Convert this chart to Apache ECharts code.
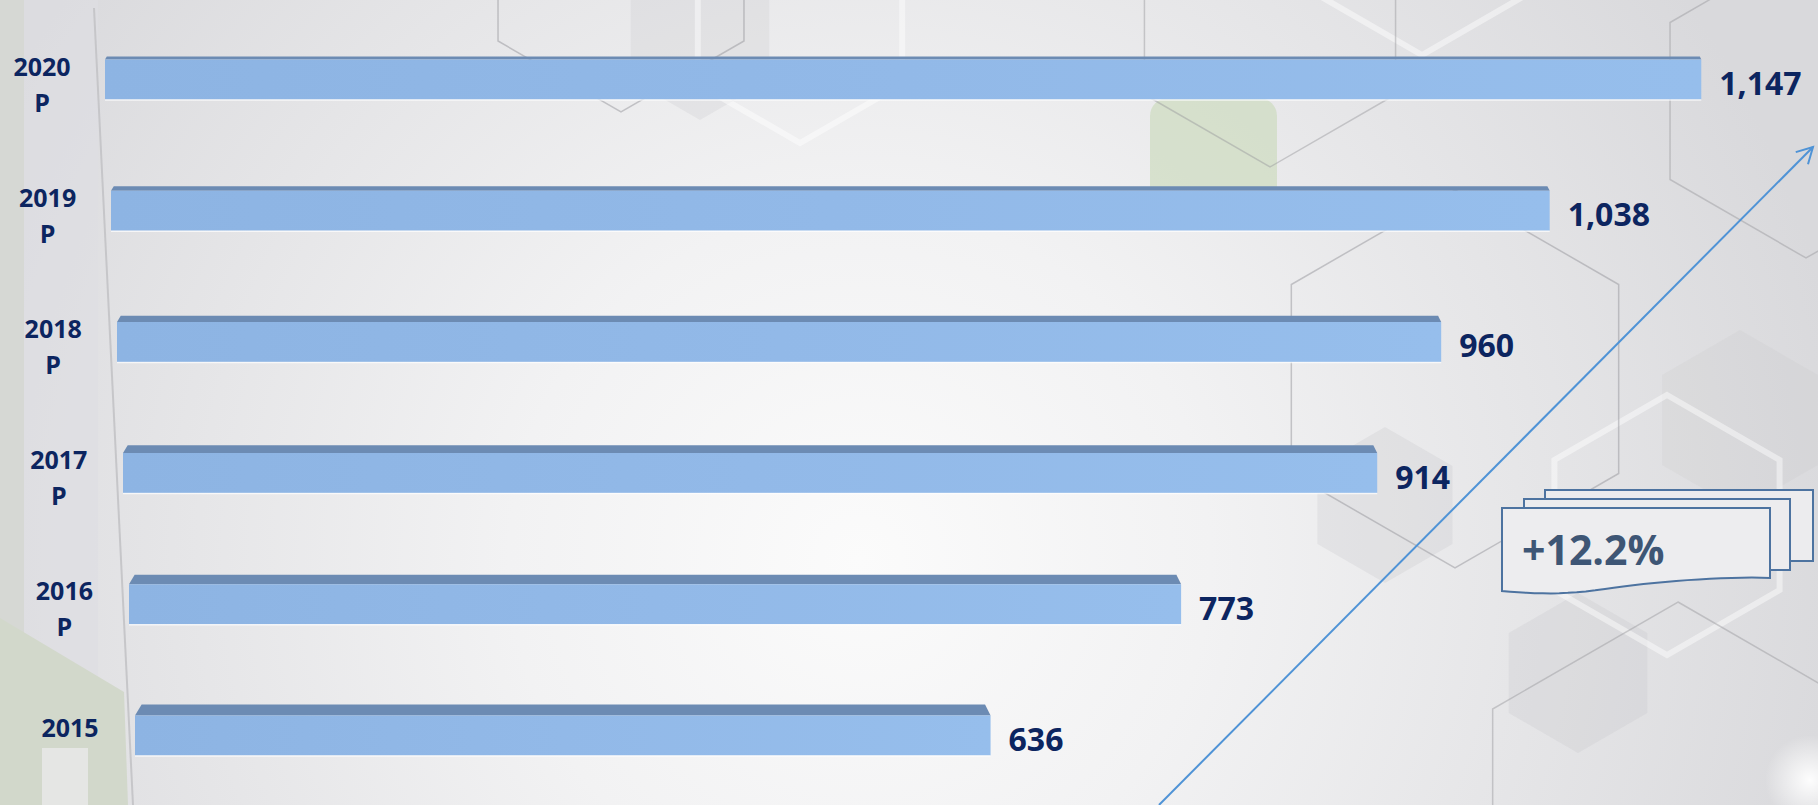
<!DOCTYPE html>
<html>
<head>
<meta charset="utf-8">
<style>
    html, body { margin: 0; padding: 0; background: #e9e9eb; }
    #main { width: 1818px; height: 805px; }
</style>
<script src="https://cdn.jsdelivr.net/npm/echarts@6/dist/echarts.min.js"></script>
</head>
<body>
<div id="main"></div>
<script>
(function () {

    // data, bottom bar first
    var YEARS = ['2015', '2016\nP', '2017\nP', '2018\nP', '2019\nP', '2020\nP'];
    var VALUES = [636, 773, 914, 960, 1038, 1147];
    var X_MAX = 1200;
    var GROWTH_TEXT = '+12.2%';

    var NAVY = '#0c2560';
    var FONT = '"Open Sans", Lato, sans-serif';

    var CHART = echarts.init(document.getElementById('main'), null, { renderer: 'svg' });

    //
    function hex(cx, cy, r) {
        var pts = [];
        for (var i = 0; i < 6; i++) {
            var a = (Math.PI / 180) * (-90 + i * 60);
            pts.push([cx + r * Math.cos(a), cy + r * Math.sin(a)]);
        }
        return pts;
    }

    function hexLine(cx, cy, r, color, width) {
        return {
            type: 'polygon', z: 0, silent: true,
            shape: { points: hex(cx, cy, r) },
            style: { fill: 'none', stroke: color, lineWidth: width }
        };
    }

    function hexFill(cx, cy, r, color) {
        return {
            type: 'polygon', z: 0, silent: true,
            shape: { points: hex(cx, cy, r) },
            style: { fill: color }
        };
    }

    //
    function arrowHead(x1, y1, x2, y2, len, ang) {
        var a = Math.atan2(y2 - y1, x2 - x1);
        return [
            [x2 - len * Math.cos(a - ang), y2 - len * Math.sin(a - ang)],
            [x2, y2],
            [x2 - len * Math.cos(a + ang), y2 - len * Math.sin(a + ang)]
        ];
    }

    // cubic bezier sampled into points, for the wavy bottom of the box
    function bezier(p0, p1, p2, p3, n) {
        var pts = [];
        for (var i = 0; i <= n; i++) {
            var t = i / n, u = 1 - t;
            pts.push([
                u * u * u * p0[0] + 3 * u * u * t * p1[0] + 3 * u * t * t * p2[0] + t * t * t * p3[0],
                u * u * u * p0[1] + 3 * u * u * t * p1[1] + 3 * u * t * t * p2[1] + t * t * t * p3[1]
            ]);
        }
        return pts;
    }

    var boxFront = [[1502, 508], [1770, 508]]
        .concat(bezier([1770, 578], [1725, 576], [1650, 582], [1605, 589], 16))
        .concat(bezier([1605, 589], [1565, 595], [1535, 594], [1502, 591], 12).slice(1));

    // background pieces
    var background = [
        {
            type: 'rect', z: 0, silent: true,
            shape: { x: 0, y: 0, width: 1818, height: 805 },
            style: {
                fill: new echarts.graphic.RadialGradient(860, 560, 1000, [
                    { offset: 0, color: '#fbfbfb' },
                    { offset: 0.35, color: '#f2f2f3' },
                    { offset: 1, color: '#d9d9dc' }
                ], true)
            }
        },
        { type: 'rect', z: 0, silent: true, shape: { x: 0, y: 0, width: 24, height: 805 }, style: { fill: '#d6d8d4' } },
        { type: 'rect', z: 0, silent: true, shape: { x: 24, y: 0, width: 74, height: 805 }, style: { fill: 'rgba(222,222,226,0.6)' } },
        {
            type: 'polygon', z: 0, silent: true,
            shape: { points: [[0, 618], [124, 692], [128, 805], [0, 805]] },
            style: { fill: '#d2d8cb' }
        },
        { type: 'rect', z: 0, silent: true, shape: { x: 42, y: 748, width: 46, height: 57 }, style: { fill: '#e5e6e4' } },

        hexFill(700, 40, 80, 'rgba(190,190,195,0.2)'),
        hexFill(1385, 505, 78, 'rgba(185,185,190,0.2)'),
        hexFill(1578, 673, 80, 'rgba(185,185,190,0.18)'),
        hexFill(1740, 420, 90, 'rgba(190,190,195,0.16)'),
        {
            type: 'rect', z: 0, silent: true,
            shape: { x: 1150, y: 98, width: 127, height: 92, r: [18, 18, 0, 0] },
            style: { fill: 'rgba(200,216,184,0.6)' }
        },

        hexLine(800, 25, 118, 'rgba(255,255,255,0.45)', 6),
        hexLine(1422, -75, 130, 'rgba(255,255,255,0.45)', 6),
        hexLine(1667, 525, 130, 'rgba(255,255,255,0.45)', 6),

        hexLine(621, -30, 142, 'rgba(150,150,155,0.5)', 1.5),
        hexLine(1270, 22, 145, 'rgba(150,150,155,0.45)', 1.5),
        hexLine(1455, 379, 189, 'rgba(150,150,155,0.5)', 1.5),
        hexLine(1678, 816, 214, 'rgba(150,150,155,0.45)', 1.5),
        hexLine(1806, 101, 157, 'rgba(150,150,155,0.45)', 1.5),

        {
            type: 'circle', z: 0, silent: true,
            shape: { cx: 1810, cy: 780, r: 45 },
            style: {
                fill: new echarts.graphic.RadialGradient(0.5, 0.5, 0.5, [
                    { offset: 0, color: 'rgba(255,255,255,0.95)' },
                    { offset: 1, color: 'rgba(255,255,255,0)' }
                ])
            }
        },

        // slanted axis line
        {
            type: 'line', z: 1, silent: true,
            shape: { x1: 94, y1: 8, x2: 133, y2: 805 },
            style: { stroke: '#c6c6c9', lineWidth: 2 }
        }
    ];

    // arrow and growth box
    var ARROW = [1159, 805, 1813, 147];
    var overlay = [
        {
            type: 'line', z: 10, silent: true,
            shape: { x1: ARROW[0], y1: ARROW[1], x2: ARROW[2], y2: ARROW[3] },
            style: { stroke: '#4f93d6', lineWidth: 2 }
        },
        {
            type: 'polyline', z: 10, silent: true,
            shape: { points: arrowHead(ARROW[0], ARROW[1], ARROW[2], ARROW[3], 18, 0.5) },
            style: { stroke: '#4f93d6', lineWidth: 2, fill: 'none' }
        },
        {
            type: 'rect', z: 10, silent: true,
            shape: { x: 1545, y: 490, width: 268, height: 71 },
            style: { fill: '#ececee', stroke: '#4d73a0', lineWidth: 2 }
        },
        {
            type: 'rect', z: 10, silent: true,
            shape: { x: 1524, y: 499, width: 266, height: 71 },
            style: { fill: '#ececee', stroke: '#4d73a0', lineWidth: 2 }
        },
        {
            type: 'polygon', z: 10, silent: true,
            shape: { points: boxFront },
            style: { fill: '#ededef', stroke: '#4d73a0', lineWidth: 2 }
        },
        {
            type: 'text', z: 11, silent: true,
            x: 1522, y: 549,
            style: {
                text: GROWTH_TEXT, fill: '#3e5675',
                font: 'bold 41px ' + FONT, align: 'left', verticalAlign: 'middle'
            }
        }
    ];

    //
    function renderBar(params, api) {
        var idx = params.dataIndex;
        var depth = YEARS.length - 1 - idx;
        var end = api.coord([api.value(0), api.value(1)]);
        var zero = api.coord([0, api.value(1)]);
        var cy = end[1];
        var h = api.size([0, 1])[1] * 0.305;
        var x0 = zero[0] - 1 + depth * 6;
        var x1 = end[0];
        var t = 3 + depth * 1.6;
        var top = cy - h / 2;
        var label = YEARS[idx];
        var twoLines = label.indexOf('\n') >= 0;

        return {
            type: 'group',
            children: [
                {
                    type: 'polygon',
                    shape: { points: [[x0, top], [x0 + t * 0.6, top - t], [x1 - t * 0.5, top - t], [x1, top]] },
                    style: { fill: '#6c8bb3' }
                },
                {
                    type: 'rect',
                    shape: { x: x0, y: top, width: x1 - x0, height: h },
                    style: {
                        fill: new echarts.graphic.LinearGradient(0, 0, 1, 0, [
                            { offset: 0, color: '#8db4e3' },
                            { offset: 0.5, color: '#92b9e8' },
                            { offset: 1, color: '#96beec' }
                        ])
                    }
                },
                {
                    type: 'line',
                    shape: { x1: x0, y1: top + h + 0.5, x2: x1, y2: top + h + 0.5 },
                    style: { stroke: 'rgba(255,255,255,0.7)', lineWidth: 1.5 }
                },
                {
                    type: 'text',
                    x: x1 + 18, y: cy + 3,
                    style: {
                        text: api.value(0).toLocaleString('en-US'), fill: NAVY,
                        font: 'bold 32px ' + FONT, align: 'left', verticalAlign: 'middle'
                    }
                },
                {
                    type: 'text',
                    x: zero[0] - 64 + depth * 5.6, y: cy + (twoLines ? 4 : -8),
                    style: {
                        text: label, fill: NAVY, font: 'bold 25px ' + FONT,
                        align: 'center', verticalAlign: 'middle', lineHeight: 36
                    }
                }
            ]
        };
    }

    var barData = [];
    for (var i = 0; i < VALUES.length; i++) {
        barData.push([VALUES[i], i]);
    }

    CHART.setOption({
        backgroundColor: '#e9e9eb',
        animation: false,
        grid: { left: 106, right: 43, top: 14, bottom: 4 },
        xAxis: {
            type: 'value', min: 0, max: X_MAX,
            show: false
        },
        yAxis: {
            type: 'category', data: YEARS,
            axisLine: { show: false }, axisTick: { show: false },
            axisLabel: { show: false }, splitLine: { show: false }
        },
        graphic: { elements: background.concat(overlay) },
        series: [{
            type: 'custom',
            z: 5,
            clip: false,
            renderItem: renderBar,
            encode: { x: 0, y: 1 },
            data: barData
        }]
    });

}());
</script>
</body>
</html>
